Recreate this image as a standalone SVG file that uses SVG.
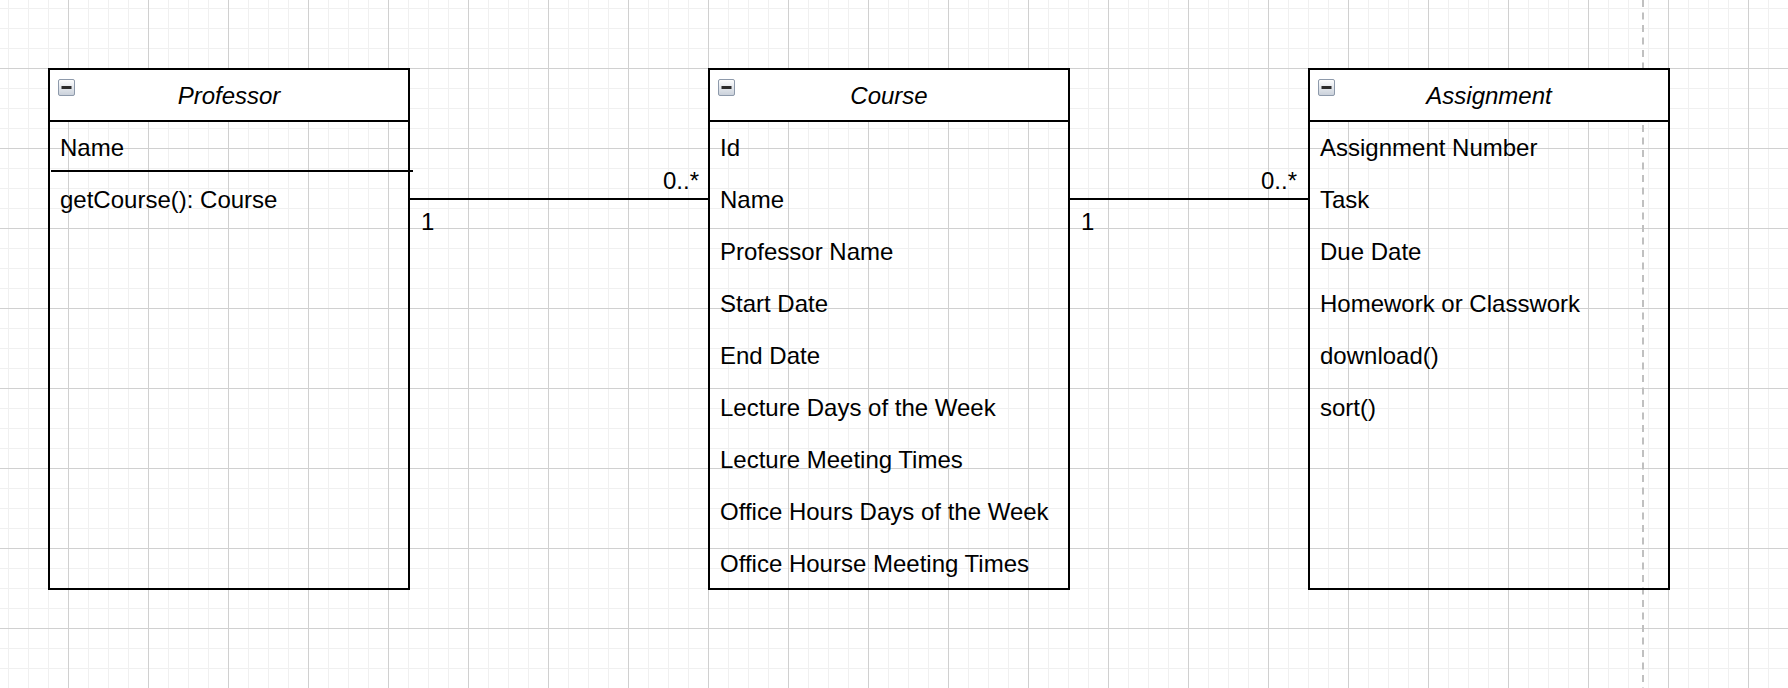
<svg xmlns="http://www.w3.org/2000/svg" width="1788" height="688" viewBox="0 0 1788 688">
  <style>
    .title { font-family: "Liberation Sans", Arial, sans-serif; font-size: 24px; font-style: italic; fill: #000; text-anchor: middle; }
    .item { font-family: "Liberation Sans", Arial, sans-serif; font-size: 24px; fill: #000; }
    .mult { font-family: "Liberation Sans", Arial, sans-serif; font-size: 24px; fill: #000; }
    .frame { fill: none; stroke: #000; stroke-width: 2; }
    .head { fill: #fff; stroke: #000; stroke-width: 2; }
    .edge { fill: none; stroke: #000; stroke-width: 2; }
  </style>
  <defs>
    <pattern id="gridMinor" patternUnits="userSpaceOnUse" x="8" y="8" width="20" height="20">
      <path d="M 0.5 0 V 20 M 0 0.5 H 20" stroke="#f0f0f0" stroke-width="1" fill="none"/>
    </pattern>
    <pattern id="gridMajor" patternUnits="userSpaceOnUse" x="68" y="68" width="80" height="80">
      <path d="M 0.5 0 V 80 M 0 0.5 H 80" stroke="#d0d0d0" stroke-width="1" fill="none"/>
    </pattern>
    <linearGradient id="iconFill" x1="0" y1="0" x2="0" y2="1">
      <stop offset="0" stop-color="#ffffff"/>
      <stop offset="1" stop-color="#c9d0da"/>
    </linearGradient>
    <g id="collapse">
      <rect x="0.5" y="0.5" width="16" height="16" rx="1.5" fill="url(#iconFill)" stroke="#8e9aab" stroke-width="1"/>
      <rect x="3.5" y="7" width="10" height="3" fill="#2b2b2b"/>
    </g>
  </defs>

  <!-- canvas grid -->
  <rect width="1788" height="688" fill="#fff"/>
  <rect width="1788" height="688" fill="url(#gridMinor)"/>
  <rect width="1788" height="688" fill="url(#gridMajor)"/>

  <!-- page break -->
  <line x1="1643" y1="0" x2="1643" y2="688" stroke="#c0c0c0" stroke-width="2" stroke-dasharray="7 5.5"/>

  <!-- associations -->
  <g id="connectors">
    <path class="edge" d="M 409 199 H 709"/>
    <text class="mult" x="421" y="230">1</text>
    <text class="mult" x="699" y="189" text-anchor="end">0..*</text>
    <path class="edge" d="M 1069 199 H 1309"/>
    <text class="mult" x="1081" y="230">1</text>
    <text class="mult" x="1297" y="189" text-anchor="end">0..*</text>
  </g>

  <!-- Professor -->
  <g id="professor">
    <rect class="frame" x="49" y="69" width="360" height="520"/>
    <rect class="head" x="49" y="69" width="360" height="52"/>
    <use href="#collapse" x="58" y="79"/>
    <text class="title" x="229" y="103.5">Professor</text>
    <text class="item" x="60" y="155.5">Name</text>
    <line x1="51" y1="171" x2="413" y2="171" stroke="#000" stroke-width="2"/>
    <text class="item" x="60" y="207.5">getCourse(): Course</text>
  </g>

  <!-- Course -->
  <g id="course">
    <rect class="frame" x="709" y="69" width="360" height="520"/>
    <rect class="head" x="709" y="69" width="360" height="52"/>
    <use href="#collapse" x="718" y="79"/>
    <text class="title" x="889" y="103.5">Course</text>
    <text class="item" x="720" y="155.5">Id</text>
    <text class="item" x="720" y="207.5">Name</text>
    <text class="item" x="720" y="259.5">Professor Name</text>
    <text class="item" x="720" y="311.5">Start Date</text>
    <text class="item" x="720" y="363.5">End Date</text>
    <text class="item" x="720" y="415.5">Lecture Days of the Week</text>
    <text class="item" x="720" y="467.5">Lecture Meeting Times</text>
    <text class="item" x="720" y="519.5">Office Hours Days of the Week</text>
    <text class="item" x="720" y="571.5">Office Hourse Meeting Times</text>
  </g>

  <!-- Assignment -->
  <g id="assignment">
    <rect class="frame" x="1309" y="69" width="360" height="520"/>
    <rect class="head" x="1309" y="69" width="360" height="52"/>
    <use href="#collapse" x="1318" y="79"/>
    <text class="title" x="1489" y="103.5">Assignment</text>
    <text class="item" x="1320" y="155.5">Assignment Number</text>
    <text class="item" x="1320" y="207.5">Task</text>
    <text class="item" x="1320" y="259.5">Due Date</text>
    <text class="item" x="1320" y="311.5">Homework or Classwork</text>
    <text class="item" x="1320" y="363.5">download()</text>
    <text class="item" x="1320" y="415.5">sort()</text>
  </g>
</svg>
